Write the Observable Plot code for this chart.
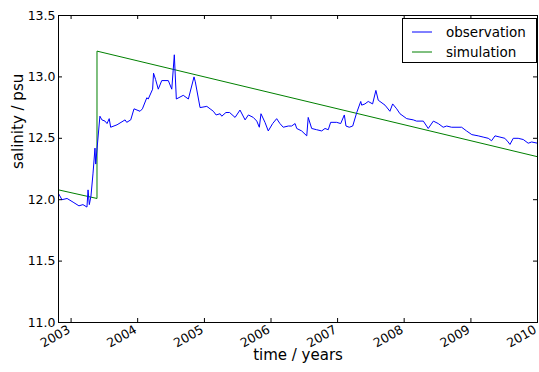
<!DOCTYPE html>
<html>
<head>
<meta charset="utf-8">
<script src="https://cdn.jsdelivr.net/npm/d3@7"></script>
<script src="https://cdn.jsdelivr.net/npm/@observablehq/plot@0.6"></script>
<style>
  html, body { margin: 0; padding: 0; background: #fff; }
  #chart { position: relative; width: 539px; height: 372px; font-family: "DejaVu Sans", sans-serif; }
  #legend {
    position: absolute; left: 402px; top: 18px; width: 135px; height: 45px;
    box-sizing: border-box; border: 1px solid #000; background: #fff;
    font-size: 13.5px; color: #000;
  }
  #legend .row { position: absolute; left: 0; height: 20px; display: flex; align-items: center; }
  #legend svg { margin-left: 9px; margin-right: 14px; }
</style>
</head>
<body>
<div id="chart"></div>
<script>
// Measured salinity (psu) at the monitoring station
const obsDates = [
  "2002-10-24","2002-11-12","2002-12-10","2003-01-12","2003-02-13","2003-03-07","2003-03-29",
  "2003-04-04","2003-04-11","2003-04-20","2003-05-01","2003-05-12","2003-05-16","2003-06-08",
  "2003-06-19","2003-07-06","2003-07-17","2003-07-29","2003-08-06","2003-09-10","2003-10-24",
  "2003-11-02","2003-11-24","2003-12-12","2004-01-14","2004-01-27","2004-02-20","2004-02-28",
  "2004-03-23","2004-03-28","2004-04-08","2004-04-23","2004-05-12","2004-06-17","2004-07-06",
  "2004-07-20","2004-07-31","2004-09-07","2004-10-05","2004-11-05","2004-11-12","2004-12-08",
  "2005-01-14","2005-02-01","2005-02-19","2005-03-06","2005-03-28","2005-04-06","2005-04-29",
  "2005-05-19","2005-06-18","2005-07-15","2005-08-12","2005-08-30","2005-09-26","2005-10-15",
  "2005-10-29","2005-11-07","2005-11-29","2005-12-17","2006-01-10","2006-02-01","2006-02-19",
  "2006-03-09","2006-04-06","2006-04-24","2006-05-13","2006-05-22","2006-06-18","2006-07-16",
  "2006-07-24","2006-08-12","2006-09-08","2006-10-06","2006-10-24","2006-11-11","2006-11-24",
  "2006-12-27","2007-01-18","2007-02-07","2007-02-16","2007-03-06","2007-03-25","2007-04-16",
  "2007-05-08","2007-05-13","2007-05-31","2007-06-18","2007-07-12","2007-07-30","2007-08-12",
  "2007-09-18","2007-10-15","2007-10-30","2007-11-21","2007-12-09","2008-01-15","2008-02-20",
  "2008-03-09","2008-04-15","2008-05-12","2008-06-09","2008-07-06","2008-08-02","2008-08-21",
  "2008-09-17","2008-11-11","2008-12-08","2009-01-06","2009-02-10","2009-03-09","2009-04-06",
  "2009-04-24","2009-05-13","2009-06-09","2009-07-06","2009-07-24","2009-08-03","2009-08-21",
  "2009-09-17","2009-10-15","2009-11-11","2009-11-30","2010-01-01"
];
const obsSalinity = [
  12.05, 12.00, 12.01, 11.98, 11.95, 11.96, 11.94,
  12.08, 11.96, 12.03, 12.21, 12.42, 12.29, 12.68,
  12.65, 12.64, 12.62, 12.66, 12.59, 12.61, 12.65,
  12.63, 12.65, 12.74, 12.72, 12.74, 12.83, 12.82,
  12.90, 13.03, 12.98, 12.90, 12.97, 12.97, 12.90,
  13.18, 12.82, 12.85, 12.82, 13.00, 12.96, 12.75,
  12.76, 12.74, 12.72, 12.69, 12.70, 12.68, 12.71,
  12.71, 12.67, 12.73, 12.65, 12.69, 12.67, 12.64,
  12.59, 12.70, 12.63, 12.56, 12.62, 12.66, 12.62,
  12.59, 12.60, 12.60, 12.62, 12.58, 12.56, 12.52,
  12.67, 12.58, 12.57, 12.56, 12.58, 12.57, 12.63,
  12.63, 12.62, 12.69, 12.60, 12.59, 12.60, 12.71,
  12.80, 12.77, 12.78, 12.80, 12.78, 12.89, 12.81,
  12.77, 12.72, 12.78, 12.74, 12.70, 12.66, 12.65,
  12.64, 12.64, 12.58, 12.64, 12.62, 12.59, 12.60,
  12.59, 12.59, 12.56, 12.53, 12.52, 12.51, 12.50,
  12.48, 12.52, 12.51, 12.50, 12.47, 12.45, 12.50,
  12.50, 12.49, 12.46, 12.47, 12.46
];

// Model output: linear trend, re-initialised in May 2003
const simDates = ["2002-10-24", "2003-05-23", "2003-05-23", "2010-01-01"];
const simSalinity = [12.08, 12.01, 13.21, 12.35];

const yearTicks = [2003, 2004, 2005, 2006, 2007, 2008, 2009, 2010];
const salinityTicks = [11.0, 11.5, 12.0, 12.5, 13.0, 13.5];

const seriesNames = ["observation", "simulation"];
const seriesColors = ["#0000ff", "#008000"];

const parse = d3.utcParse("%Y-%m-%d");
const observation = obsDates.map((d, i) => ({date: parse(d), value: obsSalinity[i]}));
const simulation = simDates.map((d, i) => ({date: parse(d), value: simSalinity[i]}));
const yearDates = yearTicks.map(y => new Date(Date.UTC(y, 0, 1)));

const W = 539, H = 372;
const mL = 58, mR = 2, mT = 15, mB = 50;
const innerW = W - mL - mR, innerH = H - mT - mB;
const tickLen = 4;
const font = "DejaVu Sans";

const chart = Plot.plot({
  width: W,
  height: H,
  marginLeft: mL,
  marginRight: mR,
  marginTop: mT,
  marginBottom: mB,
  style: {fontFamily: font, fontSize: "12.5px", background: "#fff", color: "#000"},
  x: {type: "utc", domain: [observation[0].date, observation[observation.length - 1].date]},
  y: {domain: [11, 13.5]},
  marks: [
    Plot.line(simulation, {x: "date", y: "value", stroke: seriesColors[1], strokeWidth: 1}),
    Plot.line(observation, {x: "date", y: "value", stroke: seriesColors[0], strokeWidth: 1}),
    // inward ticks on all four sides
    Plot.ruleX(yearDates, {x: d => d, insetTop: innerH - tickLen, stroke: "#000"}),
    Plot.ruleX(yearDates, {x: d => d, insetBottom: innerH - tickLen, stroke: "#000"}),
    Plot.ruleY(salinityTicks, {y: d => d, insetRight: innerW - tickLen, stroke: "#000"}),
    Plot.ruleY(salinityTicks, {y: d => d, insetLeft: innerW - tickLen, stroke: "#000"}),
    Plot.frame({stroke: "#000", strokeWidth: 1}),
    Plot.axisY(salinityTicks, {tickSize: 0, tickPadding: 3, tickFormat: d3.format(".1f"), label: null, fontSize: 12.5}),
    Plot.axisX(yearDates, {
      tickSize: 0, tickPadding: 6, tickRotate: -30, tickFormat: d3.utcFormat("%Y"),
      label: null, fontSize: 12.5, dx: -2
    }),
    Plot.text(["time / years"], {text: d => d, frameAnchor: "bottom", dy: 37, fontSize: 15}),
    Plot.text(["salinity / psu"], {text: d => d, frameAnchor: "left", rotate: -90, dx: -40, fontSize: 15})
  ]
});

const host = document.getElementById("chart");
host.appendChild(chart);

// legend box in the upper right corner of the axes
const legend = document.createElement("div");
legend.id = "legend";
seriesNames.forEach((name, i) => {
  const row = document.createElement("div");
  row.className = "row";
  row.style.top = (3 + i * 20) + "px";
  row.innerHTML = `<svg width="20" height="4"><line x1="0" x2="20" y1="2" y2="2" stroke="${seriesColors[i]}" stroke-width="1"/></svg><span>${name}</span>`;
  legend.appendChild(row);
});
host.appendChild(legend);
</script>
</body>
</html>
